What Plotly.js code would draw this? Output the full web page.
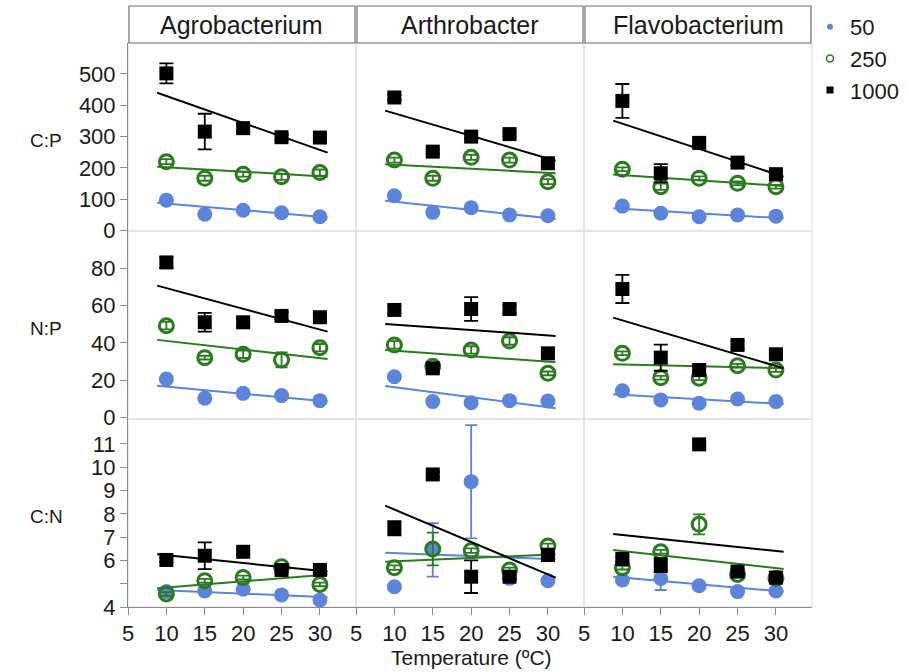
<!DOCTYPE html>
<html>
<head>
<meta charset="utf-8">
<script src="https://cdn.plot.ly/plotly-3.0.1.min.js"></script>
<style>body{margin:0;background:#fff}#chart{width:909px;height:672px}</style>
</head>
<body>
<div id="chart"></div>
<script>
// ---------- data ----------
const temps = [10, 15, 20, 25, 30];
const fitX = [8.8, 31];
const bacteria = ['Agrobacterium', 'Arthrobacter', 'Flavobacterium'];
const ratioLabels = ['C:P', 'N:P', 'C:N'];
const levels = ['50', '250', '1000'];
const xTicks = [5, 10, 15, 20, 25, 30];
const cpTicks = [0, 100, 200, 300, 400, 500];
const npTicks = [0, 20, 40, 60, 80];
const cnTicks = [4, 5, 6, 7, 8, 9, 10, 11];
const cnTickText = ['4', '', '6', '7', '8', '9', '10', '11'];

// means per bacterium: [Agrobacterium, Arthrobacter, Flavobacterium]
const cp50   = [[97, 52, 65, 57, 44], [111, 58, 73, 50, 47], [78, 55, 44, 50, 46]];
const cp250  = [[220, 167, 180, 172, 185], [225, 167, 234, 225, 156], [196, 140, 167, 151, 140]];
const cp1000 = [[502, 316, 327, 298, 297], [425, 252, 300, 308, 215], [414, 183, 280, 217, 180]];
const np50   = [[20.7, 10.4, 13, 11.8, 9.1], [21.9, 8.6, 8.0, 9.1, 8.9], [14.4, 9.5, 7.7, 10, 8.6]];
const np250  = [[49.2, 32.1, 33.9, 30.9, 37.4], [38.9, 27.5, 36.2, 41, 23.7], [34.4, 21.4, 21.1, 27.8, 25.5]];
const np1000 = [[83, 51, 51, 54.4, 53.7], [57.6, 26.4, 58.1, 58.1, 34.4], [68.8, 32.1, 25.5, 38.9, 33.9]];
const cn50   = [[4.66, 4.69, 4.76, 4.52, 4.3], [4.87, 6.45, 9.38, 5.23, 5.13], [5.16, 5.23, 4.91, 4.66, 4.69]];
const cn250  = [[4.56, 5.13, 5.27, 5.73, 4.97], [5.69, 6.49, 6.42, 5.59, 6.62], [5.69, 6.37, 7.55, 5.4, 5.23]];
const cn1000 = [[6.02, 6.2, 6.37, 5.59, 5.59], [7.38, 9.69, 5.3, 5.3, 6.23], [6.06, 5.8, 10.98, 5.52, 5.26]];

// error bar half-lengths
const cp50Err   = [[3, 3, 3, 3, 3], [3, 3, 3, 3, 3], [3, 3, 3, 3, 3]];
const cp250Err  = [[8, 8, 8, 10, 10], [8, 8, 8, 8, 8], [6, 10, 6, 6, 6]];
const cp1000Err = [[32, 57, 12, 8, 10], [8, 8, 8, 8, 8], [54, 29, 10, 8, 8]];
const np50Err   = [[1, 1, 1, 1, 1], [1, 1, 1, 1, 1], [1, 1, 1, 1, 1]];
const np250Err  = [[2, 1, 2, 4, 2], [2, 1, 2, 2, 1], [1, 1, 1, 1, 1]];
const np1000Err = [[3, 5, 2, 2, 2], [2, 2, 6.3, 2, 2], [7.5, 7, 2, 2, 2]];
const cn50Err   = [[0.05, 0.05, 0.05, 0.05, 0.05], [0.05, 1.15, 2.43, 0.05, 0.05], [0.05, 0.5, 0.05, 0.05, 0.05]];
const cn250Err  = [[0.08, 0.08, 0.08, 0.08, 0.08], [0.1, 0.7, 0.1, 0.1, 0.1], [0.08, 0.08, 0.43, 0.08, 0.08]];
const cn1000Err = [[0.1, 0.57, 0.1, 0.1, 0.1], [0.3, 0.1, 0.7, 0.1, 0.1], [0.1, 0.3, 0.1, 0.1, 0.1]];

// fitted line values at fitX
const cp50Fit   = [[89, 42], [95, 37], [71, 39]];
const cp250Fit  = [[204, 172], [212, 183], [179, 142]];
const cp1000Fit = [[440, 249], [383, 223], [351, 172]];
const np50Fit   = [[17.1, 8.6], [17, 5], [12.5, 7.3]];
const np250Fit  = [[41.6, 31.4], [36.2, 29.6], [28.6, 26.4]];
const np1000Fit = [[70.6, 46], [50.1, 43.7], [53.5, 26.4]];
const cn50Fit   = [[4.73, 4.42], [6.33, 6.05], [5.3, 4.66]];
const cn250Fit  = [[4.8, 5.4], [5.94, 6.26], [6.45, 5.63]];
const cn1000Fit = [[6.26, 5.52], [8.35, 5.26], [7.13, 6.37]];

// ---------- layout helpers ----------
const W = 909, H = 672;
const FONT = 'Liberation Sans, Arial, Helvetica, sans-serif';
const colX = [[128, 356], [356, 584], [584, 812]];
const rowY = [[43, 231], [231, 419], [419, 607]];
const xRange = [5, 34.7];
const yRanges = [[-1.5, 599], [-0.7, 99.8], [4, 12.07]];

const means = [[cp50, cp250, cp1000], [np50, np250, np1000], [cn50, cn250, cn1000]];
const errs  = [[cp50Err, cp250Err, cp1000Err], [np50Err, np250Err, np1000Err], [cn50Err, cn250Err, cn1000Err]];
const fits  = [[cp50Fit, cp250Fit, cp1000Fit], [np50Fit, np250Fit, np1000Fit], [cn50Fit, cn250Fit, cn1000Fit]];

const colors = ['#5b84da', '#2b7a1f', '#000000'];
const markerStyles = [
  {symbol: 'circle', size: 15, color: colors[0], line: {width: 0}},
  {symbol: 'circle-open', size: 14, color: colors[1], line: {width: 3, color: colors[1]}},
  {symbol: 'square', size: 14, color: colors[2], line: {width: 0}}
];
const capW = [6, 6, 7];

const traces = [];
for (let r = 0; r < 3; r++) {
  for (let c = 0; c < 3; c++) {
    const xa = c === 0 ? 'x' : 'x' + (c + 1);
    const ya = r === 0 ? 'y' : 'y' + (r + 1);
    for (let k = 0; k < 3; k++) {
      traces.push({
        type: 'scatter', mode: 'markers', x: temps, y: means[r][k][c],
        xaxis: xa, yaxis: ya, showlegend: false, hoverinfo: 'skip',
        marker: markerStyles[k],
        error_y: {type: 'data', array: errs[r][k][c], visible: true, color: colors[k], thickness: 1.8, width: capW[k]}
      });
      traces.push({
        type: 'scatter', mode: 'lines', x: fitX, y: fits[r][k][c],
        xaxis: xa, yaxis: ya, showlegend: false, hoverinfo: 'skip',
        line: {color: colors[k], width: 2}
      });
    }
  }
}
// legend entries
const legendMarkers = [
  {symbol: 'circle', size: 6, color: colors[0]},
  {symbol: 'circle-open', size: 7, color: colors[1], line: {width: 1.5, color: colors[1]}},
  {symbol: 'square', size: 7, color: colors[2]}
];
for (let k = 0; k < 3; k++) {
  traces.push({type: 'scatter', mode: 'markers', x: [null], y: [null], xaxis: 'x', yaxis: 'y',
    name: levels[k], showlegend: true, marker: legendMarkers[k]});
}

const layout = {
  width: W, height: H, autosize: false,
  margin: {l: 0, r: 0, t: 0, b: 0},
  paper_bgcolor: '#ffffff', plot_bgcolor: '#ffffff',
  font: {family: FONT, color: '#1a1a1a'},
  showlegend: true,
  legend: {x: 810 / W, xanchor: 'left', y: 1 - 6 / H, yanchor: 'top',
    font: {family: FONT, size: 22, color: '#1a1a1a'}, bgcolor: 'rgba(0,0,0,0)', tracegroupgap: 0},
  shapes: [], annotations: []
};

for (let c = 0; c < 3; c++) {
  const key = c === 0 ? 'xaxis' : 'xaxis' + (c + 1);
  layout[key] = {
    domain: [colX[c][0] / W, colX[c][1] / W], anchor: 'y3', range: xRange,
    tickmode: 'array', tickvals: xTicks, ticks: 'outside', ticklen: 7, tickwidth: 1, tickcolor: '#8a8a8a',
    showline: true, linecolor: '#8a8a8a', linewidth: 1, showgrid: false, zeroline: false,
    tickfont: {family: FONT, size: 22, color: '#1a1a1a'}, fixedrange: true
  };
}
const yTickSets = [cpTicks, npTicks, cnTicks];
const yTickTexts = [cpTicks.map(String), npTicks.map(String), cnTickText];
for (let r = 0; r < 3; r++) {
  const key = r === 0 ? 'yaxis' : 'yaxis' + (r + 1);
  layout[key] = {
    domain: [1 - rowY[r][1] / H, 1 - rowY[r][0] / H], anchor: 'x', range: yRanges[r],
    tickmode: 'array', tickvals: yTickSets[r], ticktext: yTickTexts[r],
    ticks: 'outside', ticklen: 7, tickwidth: 1, tickcolor: '#8a8a8a',
    showline: true, linecolor: '#8a8a8a', linewidth: 1, showgrid: false, zeroline: false,
    tickfont: {family: FONT, size: 22, color: '#1a1a1a'}, fixedrange: true
  };
  // row label
  layout.annotations.push({
    xref: 'paper', yref: 'paper', x: 46 / W, y: 1 - ((rowY[r][0] + rowY[r][1]) / 2 + 3) / H,
    text: ratioLabels[r], showarrow: false, xanchor: 'center', yanchor: 'middle',
    font: {family: FONT, size: 19, color: '#1a1a1a'}
  });
}
// panel borders
for (let r = 0; r < 3; r++) {
  for (let c = 0; c < 3; c++) {
    layout.shapes.push({type: 'rect', xref: 'paper', yref: 'paper', layer: 'below',
      x0: colX[c][0] / W, x1: colX[c][1] / W, y0: 1 - rowY[r][1] / H, y1: 1 - rowY[r][0] / H,
      line: {color: '#dcdcdc', width: 1}, fillcolor: 'rgba(0,0,0,0)'});
  }
}
// strip headers
for (let c = 0; c < 3; c++) {
  layout.shapes.push({type: 'rect', xref: 'paper', yref: 'paper',
    x0: (colX[c][0] + 1) / W, x1: (colX[c][1] - 1) / W, y0: 1 - 43 / H, y1: 1 - 6 / H,
    line: {color: '#6e6e6e', width: 1.2}, fillcolor: '#ffffff'});
  layout.annotations.push({xref: 'paper', yref: 'paper',
    x: (colX[c][0] + colX[c][1]) / 2 / W, y: 1 - 25 / H, text: bacteria[c], showarrow: false,
    xanchor: 'center', yanchor: 'middle', font: {family: FONT, size: 25, color: '#1a1a1a'}});
}
// x axis title
layout.annotations.push({xref: 'paper', yref: 'paper', x: 471 / W, y: 0, yanchor: 'bottom',
  text: 'Temperature (ºC)', showarrow: false, xanchor: 'center', yshift: 1,
  font: {family: FONT, size: 21, color: '#1a1a1a'}});

Plotly.newPlot('chart', traces, layout, {staticPlot: true, displayModeBar: false});
</script>
</body>
</html>
